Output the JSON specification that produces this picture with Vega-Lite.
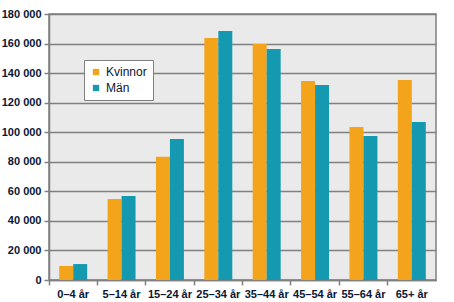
{
  "$schema": "https://vega.github.io/schema/vega-lite/v6.json",
  "autosize": {"type": "none"},
  "padding": {"left": 49, "top": 14, "right": 18, "bottom": 22},
  "width": 387,
  "height": 266,
  "background": "white",
  "config": {
    "view": {"fill": "#EAEAEA", "stroke": "#808080", "strokeWidth": 1.5},
    "font": "Liberation Sans"
  },
  "data": {
    "values": [
      {"alder": "0–4 år", "kon": "Kvinnor", "antal": 9500},
      {"alder": "0–4 år", "kon": "Män", "antal": 10800},
      {"alder": "5–14 år", "kon": "Kvinnor", "antal": 54800},
      {"alder": "5–14 år", "kon": "Män", "antal": 56800},
      {"alder": "15–24 år", "kon": "Kvinnor", "antal": 83400},
      {"alder": "15–24 år", "kon": "Män", "antal": 95400},
      {"alder": "25–34 år", "kon": "Kvinnor", "antal": 163800},
      {"alder": "25–34 år", "kon": "Män", "antal": 168500},
      {"alder": "35–44 år", "kon": "Kvinnor", "antal": 159700},
      {"alder": "35–44 år", "kon": "Män", "antal": 156300},
      {"alder": "45–54 år", "kon": "Kvinnor", "antal": 134700},
      {"alder": "45–54 år", "kon": "Män", "antal": 132000},
      {"alder": "55–64 år", "kon": "Kvinnor", "antal": 103500},
      {"alder": "55–64 år", "kon": "Män", "antal": 97400},
      {"alder": "65+ år", "kon": "Kvinnor", "antal": 135300},
      {"alder": "65+ år", "kon": "Män", "antal": 106900}
    ]
  },
  "mark": {"type": "bar"},
  "encoding": {
    "x": {
      "field": "alder",
      "type": "nominal",
      "sort": null,
      "scale": {"paddingInner": 0, "paddingOuter": 0},
      "axis": {
        "title": null,
        "labelAngle": 0,
        "bandPosition": 0,
        "labelAlign": "center",
        "labelOffset": 0,
        "labelFont": "Liberation Sans",
        "labelFontWeight": "bold",
        "labelFontSize": 11,
        "labelColor": "#0a1633",
        "labelPadding": 3,
        "tickColor": "#808080",
        "tickSize": 5,
        "tickWidth": 1.5,
        "domainColor": "#808080",
        "domainWidth": 1.5,
        "grid": false
      }
    },
    "xOffset": {
      "field": "kon",
      "type": "nominal",
      "scale": {"paddingInner": 0, "paddingOuter": 0.73}
    },
    "y": {
      "field": "antal",
      "type": "quantitative",
      "scale": {"domain": [0, 180000], "nice": false},
      "axis": {
        "title": null,
        "values": [0, 20000, 40000, 60000, 80000, 100000, 120000, 140000, 160000, 180000],
        "format": ",d",
        "labelExpr": "replace(datum.label, /,/g, ' ')",
        "labelFont": "Liberation Sans",
        "labelFontWeight": "bold",
        "labelFontSize": 11,
        "labelColor": "#0a1633",
        "labelPadding": 3,
        "tickColor": "#808080",
        "tickSize": 5,
        "tickWidth": 1.5,
        "domainColor": "#808080",
        "domainWidth": 1.5,
        "gridColor": "#808080",
        "gridWidth": 1.5,
        "gridOpacity": 1
      }
    },
    "color": {
      "field": "kon",
      "type": "nominal",
      "scale": {"domain": ["Kvinnor", "Män"], "range": ["#F4A41A", "#1499B1"]},
      "legend": {
        "title": null,
        "orient": "none",
        "legendX": 35,
        "legendY": 46,
        "symbolType": "square",
        "symbolSize": 40,
        "symbolStrokeWidth": 0,
        "labelFont": "Liberation Sans",
        "labelFontSize": 12,
        "labelColor": "#0a1633",
        "rowPadding": 4,
        "padding": 6,
        "fillColor": "white",
        "strokeColor": "#808080",
        "labelLimit": 200
      }
    }
  }
}
